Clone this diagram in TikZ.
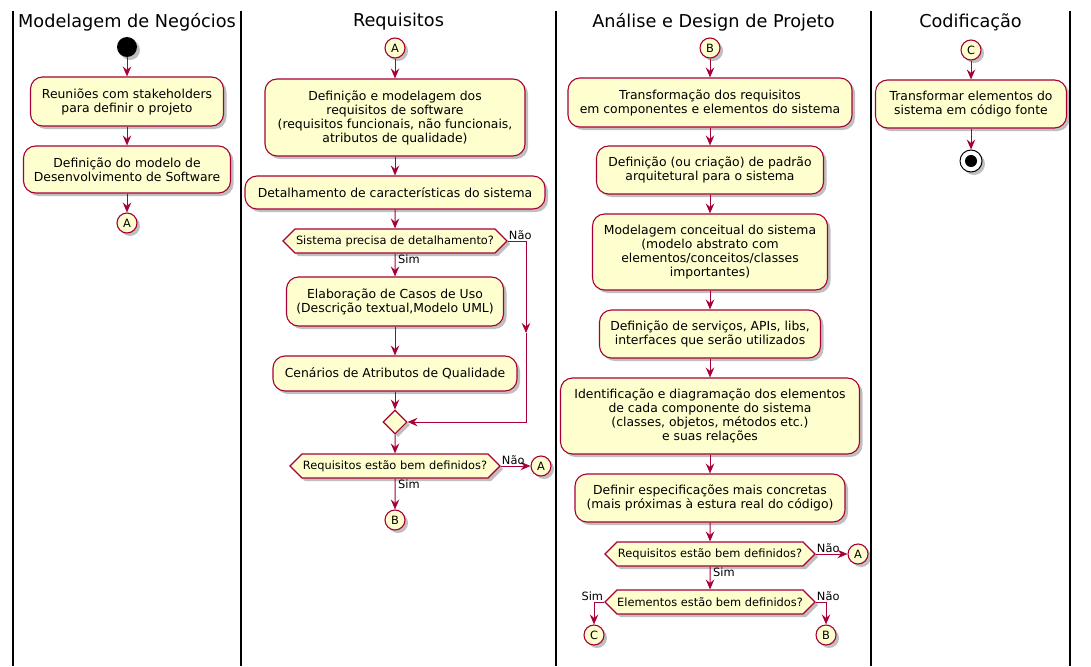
\documentclass[tikz,border=0pt]{standalone}
\usepackage{fontspec}
\setmainfont{DejaVu Sans}
\usetikzlibrary{shapes.geometric, shapes.symbols, arrows.meta, shadows}
\definecolor{umlred}{HTML}{A80036}
\definecolor{umlfill}{HTML}{FEFECE}
\tikzset{
  umlshadow/.style={drop shadow={shadow xshift=3pt, shadow yshift=-3pt, opacity=0.25, fill=black}},
  act/.style={rectangle, draw=umlred, fill=umlfill, rounded corners=12pt,
    line width=1.1pt, align=center, inner sep=0pt,
    font=\fontsize{12.4pt}{14pt}\selectfont, umlshadow},
  decision/.style={signal, signal to=east and west, signal pointer angle=90,
    draw=umlred, fill=umlfill, line width=1.1pt, inner sep=0pt,
    minimum height=24pt, font=\fontsize{11.4pt}{13pt}\selectfont, umlshadow},
  merge/.style={diamond, draw=umlred, fill=umlfill, line width=1.1pt,
    inner sep=0pt, minimum width=24pt, minimum height=24pt, umlshadow},
  conn/.style={circle, draw=umlred, fill=umlfill, line width=1.1pt,
    inner sep=0pt, minimum size=20pt, font=\fontsize{11.4pt}{13pt}\selectfont, umlshadow},
  startnode/.style={circle, fill=black, inner sep=0pt, minimum size=20pt, umlshadow},
  endnode/.style={circle, draw=black, fill=white, line width=1pt, inner sep=0pt,
    minimum size=22pt, umlshadow,
    path picture={\fill[black] (path picture bounding box.center) circle (6pt);}},
  lanetitle/.style={font=\fontsize{17.7pt}{20pt}\selectfont, inner sep=0pt},
  lbl/.style={font=\fontsize{11.4pt}{13pt}\selectfont, inner sep=1pt},
  lane/.style={line width=1.5pt, black},
  arrow/.style={-{Stealth[length=10pt, width=8.5pt, inset=3.5pt]}, line width=1pt, color=umlred},
  line/.style={line width=1pt, color=umlred}
}

\begin{document}
\begin{tikzpicture}[x=1pt, y=-1pt]
  \useasboundingbox (0,0) rectangle (1091,666);

  % swimlanes
  \foreach \lx in {13,241,556,871,1070}
    \draw[lane] (\lx,11) -- (\lx,666);
  \node[lanetitle] (t1) at (127,22) {Modelagem de Negócios};
  \node[lanetitle] (t2) at (398.5,22) {Requisitos};
  \node[lanetitle] (t3) at (713.5,22) {Análise e Design de Projeto};
  \node[lanetitle] (t4) at (970.5,22) {Codificação};

  % Modelagem de Negocios
  \node[startnode] (start) at (127,47) {};
  \node[act, minimum width=193pt, minimum height=49pt] (neg1) at (127,101.5)
    {Reuniões com stakeholders\\para definir o projeto};
  \node[act, minimum width=207pt, minimum height=47pt] (neg2) at (127,169.5)
    {Definição do modelo de\\Desenvolvimento de Software};
  \node[conn] (negA) at (127,223) {A};
  \draw[arrow] (start) -- (neg1);
  \draw[arrow] (neg1) -- (neg2);
  \draw[arrow] (neg2) -- (negA);

  % Requisitos
  \node[conn] (reqA) at (395,48) {A};
  \node[act, minimum width=260pt, minimum height=77pt] (req1) at (395,117.5)
    {Definição e modelagem dos\\requisitos de software\\(requisitos funcionais, não funcionais,\\atributos de qualidade)};
  \node[act, minimum width=300pt, minimum height=33pt] (req2) at (395,192.5)
    {Detalhamento de características do sistema};
  \node[decision, minimum width=224pt] (reqD1) at (395,241) {Sistema precisa de detalhamento?};
  \node[act, minimum width=217pt, minimum height=49pt] (req3) at (395,301.5)
    {Elaboração de Casos de Uso\\(Descrição textual,Modelo UML)};
  \node[act, minimum width=244pt, minimum height=35pt] (req4) at (395,373.5)
    {Cenários de Atributos de Qualidade};
  \node[merge] (reqM) at (395,422) {};
  \node[decision, minimum width=210pt] (reqD2) at (395,466) {Requisitos estão bem definidos?};
  \node[conn] (reqA2) at (541,466) {A};
  \node[conn] (reqB) at (395,520) {B};
  \coordinate (skip1) at (526,241);
  \coordinate (skip2) at (526,333);
  \coordinate (skip3) at (526,422);
  \draw[arrow] (reqA) -- (req1);
  \draw[arrow] (req1) -- (req2);
  \draw[arrow] (req2) -- (reqD1);
  \draw[arrow] (reqD1) -- (req3);
  \draw[arrow] (req3) -- (req4);
  \draw[arrow] (req4) -- (reqM);
  \draw[arrow] (reqD1.east) -- (skip1) -- (skip2);
  \draw[arrow] (skip2) -- (skip3) -- (reqM.east);
  \draw[arrow] (reqM) -- (reqD2);
  \draw[arrow] (reqD2.east) -- (reqA2);
  \draw[arrow] (reqD2) -- (reqB);
  \node[lbl, anchor=south west] (lNao1) at (reqD1.east) {Não};
  \node[lbl, anchor=north west] (lSim1) at ([xshift=2pt]reqD1.south) {Sim};
  \node[lbl, anchor=south west] (lNao2) at (reqD2.east) {Não};
  \node[lbl, anchor=north west] (lSim2) at ([xshift=2pt]reqD2.south) {Sim};

  % Analise e Design
  \node[conn] (anaB) at (710,48) {B};
  \node[act, minimum width=284pt, minimum height=49pt] (ana1) at (710,102.5)
    {Transformação dos requisitos\\em componentes e elementos do sistema};
  \node[act, minimum width=227pt, minimum height=48pt] (ana2) at (710,170)
    {Definição (ou criação) de padrão\\arquitetural para o sistema};
  \node[act, minimum width=235pt, minimum height=76pt] (ana3) at (710,252)
    {Modelagem conceitual do sistema\\(modelo abstrato com\\elementos/conceitos/classes\\importantes)};
  \node[act, minimum width=221pt, minimum height=48pt] (ana4) at (710,334)
    {Definição de serviços, APIs, libs,\\interfaces que serão utilizados};
  \node[act, minimum width=299pt, minimum height=76pt] (ana5) at (710,416)
    {Identificação e diagramação dos elementos\\de cada componente do sistema\\(classes, objetos, métodos etc.)\\e suas relações};
  \node[act, minimum width=270pt, minimum height=48pt] (ana6) at (710,498)
    {Definir especificações mais concretas\\(mais próximas à estura real do código)};
  \node[decision, minimum width=210pt] (anaD1) at (710,554) {Requisitos estão bem definidos?};
  \node[conn] (anaA) at (858,554) {A};
  \node[decision, minimum width=210pt] (anaD2) at (710,602) {Elementos estão bem definidos?};
  \node[conn] (anaC) at (594,635) {C};
  \node[conn] (anaB2) at (826,635) {B};
  \draw[arrow] (anaB) -- (ana1);
  \draw[arrow] (ana1) -- (ana2);
  \draw[arrow] (ana2) -- (ana3);
  \draw[arrow] (ana3) -- (ana4);
  \draw[arrow] (ana4) -- (ana5);
  \draw[arrow] (ana5) -- (ana6);
  \draw[arrow] (ana6) -- (anaD1);
  \draw[arrow] (anaD1.east) -- (anaA);
  \draw[arrow] (anaD1) -- (anaD2);
  \draw[arrow] (anaD2.west) -| (anaC);
  \draw[arrow] (anaD2.east) -| (anaB2);
  \node[lbl, anchor=south west] (lNao3) at (anaD1.east) {Não};
  \node[lbl, anchor=north west] (lSim3) at ([xshift=2pt]anaD1.south) {Sim};
  \node[lbl, anchor=south east] (lSim4) at (anaD2.west) {Sim};
  \node[lbl, anchor=south west] (lNao4) at (anaD2.east) {Não};

  % Codificacao
  \node[conn] (codC) at (971,50) {C};
  \node[act, minimum width=191pt, minimum height=48pt] (cod1) at (971,104)
    {Transformar elementos do\\sistema em código fonte};
  \node[endnode] (stop) at (971,161) {};
  \draw[arrow] (codC) -- (cod1);
  \draw[arrow] (cod1) -- (stop);
\end{tikzpicture}
\end{document}
